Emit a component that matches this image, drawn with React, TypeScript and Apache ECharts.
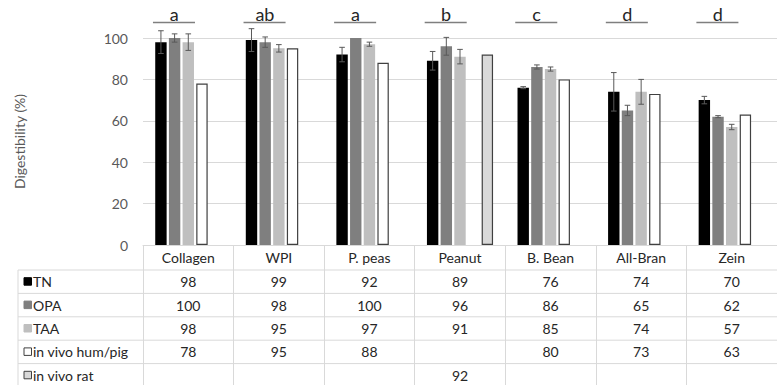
import React, { useEffect, useRef } from "react";
import * as echarts from "echarts";

const categories = ["Collagen", "WPI", "P. peas", "Peanut", "B. Bean", "All-Bran", "Zein"];
const seriesNames = ["TN", "OPA", "TAA", "in vivo hum/pig", "in vivo rat"];
const tnValues = [98, 99, 92, 89, 76, 74, 70];
const opaValues = [100, 98, 100, 96, 86, 65, 62];
const taaValues = [98, 95, 97, 91, 85, 74, 57];
const humPigValues: (number | null)[] = [78, 95, 88, null, 80, 73, 63];
const ratValues: (number | null)[] = [null, null, null, 92, null, null, null];
const tnErrors = [5.5, 5.5, 3.5, 4.5, 0.5, 9.3, 1.8];
const opaErrors = [2, 2.5, 0, 4.3, 1, 2.5, 0.5];
const taaErrors = [4, 1.8, 1, 3.5, 1, 6, 1.3];
const groupLetters = ["a", "ab", "a", "b", "c", "d", "d"];
const yTickInterval = 20;
const yMin = 0;
const yMax = 100;
const letterLevel = 107.5;

const allValues = [tnValues, opaValues, taaValues, humPigValues, ratValues];
const allErrors = [tnErrors, opaErrors, taaErrors];

const fills = ["#000000", "#7f7f7f", "#bfbfbf", "#ffffff", "#d9d9d9"];
const borders = ["#000000", "#7f7f7f", "#bfbfbf", "#404040", "#404040"];
const borderWidths = [0, 0, 0, 1.2, 1.2];

const FONT = "Lato, 'Open Sans', sans-serif";
const GRID_LEFT = 143;
const TABLE_LEFT = 18;
const HEADER_H = 25;
const ROW_H = 23.4;
const CAT_GAP = 0.27;
const BAR_GAP = 0.2;
const LINE_COLOR = "#d9d9d9";
const TEXT_COLOR = "#262626";

export default function App() {
  const ref = useRef<HTMLDivElement>(null);

  useEffect(() => {
    if (!ref.current) return;
    const chart = echarts.init(ref.current, undefined, { renderer: "svg" });

    const barSeries = seriesNames.map((name, s) => ({
      name,
      type: "bar",
      data: allValues[s].map((v) => (v == null ? "-" : v)),
      barCategoryGap: `${CAT_GAP * 100}%`,
      barGap: `${BAR_GAP * 100}%`,
      itemStyle: {
        color: fills[s],
        borderColor: borders[s],
        borderWidth: borderWidths[s],
      },
      z: 2,
    }));

    const errorData: number[][] = [];
    allErrors.forEach((errs, s) => {
      errs.forEach((e, i) => {
        if (e > 0) errorData.push([i, s, (allValues[s][i] as number) - e, (allValues[s][i] as number) + e]);
      });
    });

    const slotCenter = (api: any, i: number, s: number) => {
      const band = api.size([1, 0])[0];
      const n = seriesNames.length;
      const avail = band * (1 - CAT_GAP);
      const bw = avail / (n + (n - 1) * BAR_GAP);
      const stride = bw * (1 + BAR_GAP);
      return api.coord([i, 0])[0] - avail / 2 + s * stride + bw / 2;
    };

    const errorSeries = {
      type: "custom",
      name: "errors",
      data: errorData,
      encode: { x: 0, y: 3 },
      clip: false,
      z: 5,
      silent: true,
      renderItem: (params: any, api: any) => {
        const i = api.value(0);
        const s = api.value(1);
        const lo = api.value(2);
        const hi = api.value(3);
        const cx = slotCenter(api, i, s);
        const yHi = api.coord([i, hi])[1];
        const yLo = api.coord([i, lo])[1];
        const cap = 2.8;
        const st = { stroke: "#595959", lineWidth: 1 };
        return {
          type: "group",
          children: [
            { type: "line", shape: { x1: cx, y1: yHi, x2: cx, y2: yLo }, style: st },
            { type: "line", shape: { x1: cx - cap, y1: yHi, x2: cx + cap, y2: yHi }, style: st },
            { type: "line", shape: { x1: cx - cap, y1: yLo, x2: cx + cap, y2: yLo }, style: st },
          ],
        };
      },
    };

    const letterSeries = {
      type: "custom",
      name: "letters",
      data: groupLetters.map((_, i) => [i, letterLevel]),
      encode: { x: 0, y: 1 },
      clip: false,
      silent: true,
      renderItem: (params: any, api: any) => {
        const i = api.value(0);
        const band = api.size([1, 0])[0];
        const [cx, y] = api.coord([i, api.value(1)]);
        return {
          type: "group",
          children: [
            {
              type: "line",
              shape: { x1: cx - 0.39 * band, y1: y, x2: cx + 0.074 * band, y2: y },
              style: { stroke: "#7f7f7f", lineWidth: 1.6 },
            },
            {
              type: "text",
              style: {
                text: groupLetters[i],
                x: cx - 0.154 * band,
                y: y + 1,
                align: "center",
                verticalAlign: "bottom",
                fontSize: 18,
                fontFamily: FONT,
                fill: TEXT_COLOR,
              },
            },
          ],
        };
      },
    };

    const tableSeries = {
      type: "custom",
      name: "table",
      data: categories.map((_, i) => [i, 0]),
      encode: { x: 0, y: 1 },
      clip: false,
      silent: true,
      renderItem: (params: any, api: any) => {
        const i = api.value(0);
        const [cx, y0] = api.coord([i, 0]);
        const children = allValues.map((vals, r) => ({
          type: "text",
          style: {
            text: vals[i] == null ? "" : String(vals[i]),
            x: cx,
            y: y0 + HEADER_H + ROW_H / 2 + r * ROW_H,
            align: "center",
            verticalAlign: "middle",
            fontSize: 14,
            fontFamily: FONT,
            fill: TEXT_COLOR,
          },
        }));
        return { type: "group", children };
      },
    };

    const axisY = 385 - 140;
    const graphics: any[] = [];
    for (let r = 0; r <= seriesNames.length; r++) {
      const y = axisY + HEADER_H + r * ROW_H;
      graphics.push({
        type: "line",
        shape: { x1: TABLE_LEFT, y1: y, x2: 790, y2: y },
        style: { stroke: LINE_COLOR, lineWidth: 1 },
        silent: true,
      });
    }
    graphics.push({
      type: "line",
      shape: { x1: TABLE_LEFT, y1: axisY + HEADER_H, x2: TABLE_LEFT, y2: 400 },
      style: { stroke: LINE_COLOR, lineWidth: 1 },
      silent: true,
    });
    seriesNames.forEach((name, r) => {
      const yc = axisY + HEADER_H + ROW_H / 2 + r * ROW_H;
      graphics.push({
        type: "rect",
        shape: { x: 24, y: yc - 4, width: 7.5, height: 7.5 },
        style: { fill: fills[r], stroke: r >= 3 ? "#404040" : fills[r], lineWidth: 1 },
        silent: true,
      });
      graphics.push({
        type: "text",
        style: {
          text: name,
          x: 33,
          y: yc,
          align: "left",
          verticalAlign: "middle",
          fontSize: 14,
          fontFamily: FONT,
          fill: TEXT_COLOR,
        },
        silent: true,
      });
    });

    chart.setOption({
      animation: false,
      grid: { left: GRID_LEFT, right: -4, top: 38, bottom: 140, containLabel: false },
      xAxis: {
        type: "category",
        data: categories,
        axisLine: { show: true, lineStyle: { color: LINE_COLOR, width: 1 } },
        axisTick: {
          show: true,
          alignWithLabel: false,
          inside: false,
          length: 160,
          lineStyle: { color: LINE_COLOR, width: 1 },
        },
        axisLabel: { fontSize: 14, fontFamily: FONT, color: TEXT_COLOR, margin: 5 },
      },
      yAxis: {
        type: "value",
        min: yMin,
        max: yMax,
        interval: yTickInterval,
        name: "Digestibility (%)",
        nameLocation: "middle",
        nameRotate: 90,
        nameGap: 117,
        nameTextStyle: { fontSize: 14, fontFamily: FONT, color: "#595959" },
        axisLine: { show: false },
        axisTick: { show: false },
        axisLabel: { fontSize: 14, fontFamily: FONT, color: "#595959", margin: 15 },
        splitLine: { lineStyle: { color: LINE_COLOR, width: 1 } },
      },
      series: [...barSeries, errorSeries, letterSeries, tableSeries],
      graphic: graphics,
    });

    return () => chart.dispose();
  }, []);

  return <div ref={ref} style={{ width: 777, height: 385, position: "absolute", left: 0, top: 0, background: "#fff" }} />;
}
